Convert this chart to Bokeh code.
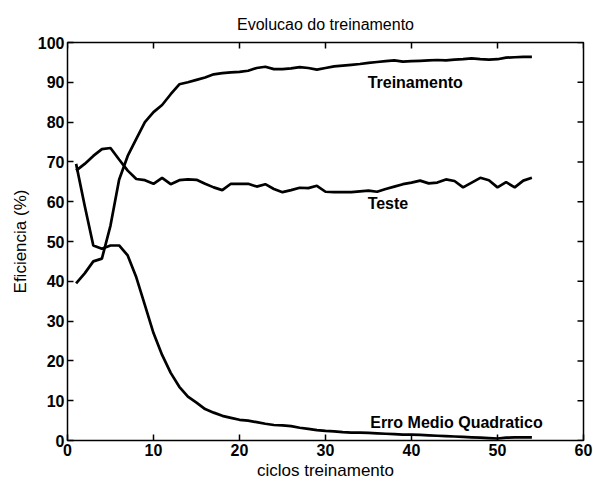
import math
from bokeh.plotting import figure
from bokeh.models import Label, FixedTicker
from bokeh.embed import file_html
from bokeh.resources import INLINE

ciclos = list(range(1, 55))
treinamento = [39.5, 42, 45, 45.7, 54, 65.5, 71.5, 75.8, 80, 82.5,
               84.3, 87, 89.5, 90, 90.6, 91.2, 92, 92.3, 92.5, 92.6,
               92.9, 93.6, 93.9, 93.3, 93.3, 93.5, 93.8, 93.6, 93.2, 93.6,
               94, 94.2, 94.4, 94.6, 94.9, 95.1, 95.3, 95.5, 95.2, 95.3,
               95.4, 95.5, 95.6, 95.5, 95.7, 95.8, 96, 95.8, 95.7, 95.8,
               96.2, 96.3, 96.4, 96.4]
teste = [67.8, 69.5, 71.5, 73.2, 73.5, 70.6, 67.8, 65.7, 65.4, 64.5,
         66, 64.4, 65.4, 65.6, 65.5, 64.5, 63.6, 62.9, 64.5, 64.5,
         64.5, 63.8, 64.4, 63.2, 62.4, 62.9, 63.5, 63.4, 64, 62.5,
         62.4, 62.4, 62.4, 62.6, 62.8, 62.5, 63.2, 63.8, 64.4, 64.8,
         65.3, 64.6, 64.8, 65.6, 65.2, 63.6, 64.8, 66, 65.4, 63.6,
         64.9, 63.6, 65.3, 66]
erro = [69.5, 59, 49, 48.2, 49, 49, 46.5, 41, 34, 27,
        21.5, 17, 13.5, 11, 9.5, 7.9, 7, 6.2, 5.7, 5.2,
        5, 4.6, 4.2, 3.9, 3.8, 3.6, 3.2, 2.9, 2.6, 2.4,
        2.3, 2.1, 2.0, 2.0, 1.9, 1.8, 1.7, 1.6, 1.5, 1.5,
        1.4, 1.3, 1.2, 1.1, 1.0, 0.9, 0.8, 0.7, 0.6, 0.5,
        0.7, 0.8, 0.8, 0.8]

x_ticks = [0, 10, 20, 30, 40, 50, 60]
y_ticks = [0, 10, 20, 30, 40, 50, 60, 70, 80, 90, 100]
titulo = "Evolucao do treinamento"
x_label = "ciclos treinamento"
y_label = "Eficiencia (%)"
rotulos = ["Treinamento", "Teste", "Erro Medio Quadratico"]
rotulos_x = [34.9, 34.9, 35.2]
rotulos_y = [90, 59.5, 4.5]

FONT = "Liberation Sans"
X0, X1, Y0, Y1 = 0, 60, 0, 100

p = figure(width=593, height=485, x_range=(X0, X1), y_range=(Y0, Y1),
           output_backend="svg", toolbar_location=None,
           min_border_left=67, min_border_right=10, min_border_top=42, min_border_bottom=45,
           title=titulo)
p.title.align = "center"
p.title.text_font = FONT
p.title.text_font_size = "16px"
p.title.text_font_style = "normal"
p.title.text_color = "black"
p.title.standoff = 19
p.title.offset = -8

p.grid.visible = False
p.outline_line_color = "black"
p.outline_line_width = 1.5
p.background_fill_color = "white"
p.border_fill_color = "white"

for ax in [p.xaxis[0], p.yaxis[0]]:
    ax.major_tick_in = 6
    ax.major_tick_out = 0
    ax.minor_tick_line_color = None
    ax.axis_line_color = None
    ax.major_tick_line_width = 1.5
    ax.major_tick_line_color = "black"
    ax.major_label_text_font = FONT
    ax.major_label_text_font_size = "16px"
    ax.major_label_text_font_style = "bold"
    ax.major_label_text_color = "black"
    ax.axis_label_text_font = FONT
    ax.axis_label_text_font_size = "17px"
    ax.axis_label_text_font_style = "normal"
    ax.axis_label_text_color = "black"
    ax.major_label_standoff = 3

p.xaxis[0].axis_label_standoff = 2
p.yaxis[0].axis_label_standoff = 5
p.xaxis[0].ticker = FixedTicker(ticks=x_ticks)
p.yaxis[0].ticker = FixedTicker(ticks=y_ticks)
p.xaxis[0].axis_label = x_label
p.yaxis[0].axis_label = y_label

# inward ticks on the top and right edges (half of each dash is clipped by the frame)
p.scatter(x_ticks, [Y1] * len(x_ticks), marker="dash", size=12, angle=math.pi / 2,
          line_color="black", line_width=1.5)
p.scatter([X1] * len(y_ticks), y_ticks, marker="dash", size=12,
          line_color="black", line_width=1.5)

for ys in [treinamento, teste, erro]:
    p.line(ciclos, ys, line_color="black", line_width=2.7)

for txt, xx, yy in zip(rotulos, rotulos_x, rotulos_y):
    p.add_layout(Label(x=xx, y=yy, text=txt, text_font=FONT, text_font_size="16px",
                       text_font_style="bold", text_color="black",
                       text_baseline="middle", text_align="left"))

open("out.html", "w").write(file_html(p, INLINE))
